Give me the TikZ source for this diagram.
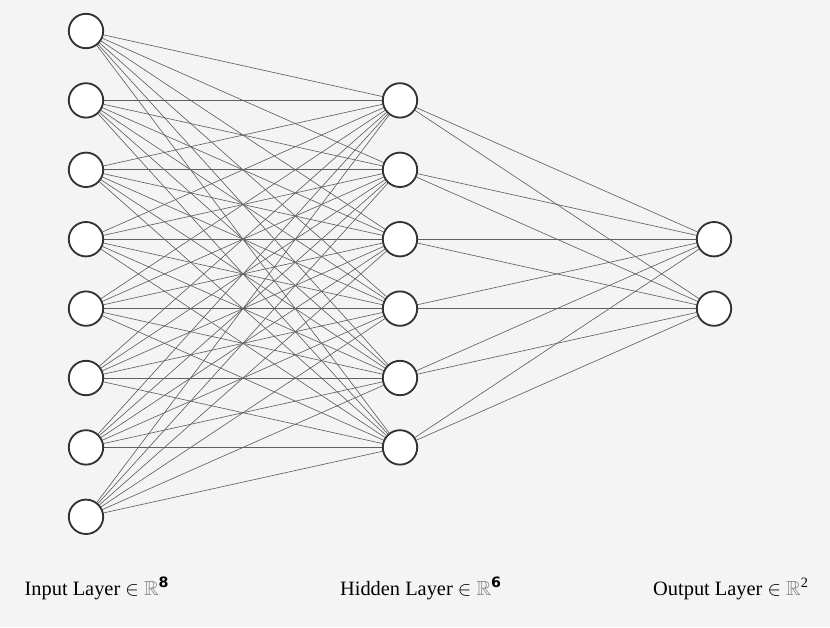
\documentclass[tikz,border=0pt]{standalone}
\usepackage{fontspec}
\setmainfont{Liberation Serif}
\setsansfont{DejaVu Sans}
\usepackage{amsmath, amssymb}
\usepackage{tikz}
\usetikzlibrary{positioning, backgrounds}
\definecolor{bggray}{RGB}{244, 244, 244}
\definecolor{edgegray}{RGB}{95, 95, 95}
\definecolor{ringgray}{RGB}{50, 50, 50}
\tikzset{
	neuron/.style={circle, draw=ringgray, line width=1.3pt, fill=white, minimum size=0.86cm, inner sep=0pt},
	link/.style={draw=edgegray, line width=0.45pt},
	layerlabel/.style={font=\fontsize{14.5}{16}\selectfont, anchor=base}
}

\begin{document}
\begin{tikzpicture}[x=0.025cm, y=-0.025cm]
			\useasboundingbox (0,0) rectangle (830,627);
			
			% input layer
			\foreach \i in {1,...,8}
				\node[neuron] (in-\i) at (86,{31+69.4*(\i-1)}) {};
			% hidden layer
			\foreach \j in {1,...,6}
				\node[neuron] (hid-\j) at (400,{31+69.4*\j}) {};
			% output layer
			\foreach \k in {1,2}
				\node[neuron] (out-\k) at (714,{31+69.4*(\k+2)}) {};
			
			\begin{scope}[on background layer]
				\fill[bggray] (0,0) rectangle (830,627);
				\foreach \i in {1,...,8}
					\foreach \j in {1,...,6}
						\draw[link] (in-\i) -- (hid-\j);
				\foreach \j in {1,...,6}
					\foreach \k in {1,2}
						\draw[link] (hid-\j) -- (out-\k);
			\end{scope}
			
			\node[layerlabel] (lbl-in) at (97,595) {Input Layer $\in$ {\color{gray}$\mathbb{R}$}\textsuperscript{\sffamily\bfseries 8}};
			\node[layerlabel] (lbl-hid) at (421,595) {Hidden Layer $\in$ {\color{gray}$\mathbb{R}$}\textsuperscript{\sffamily\bfseries 6}};
			\node[layerlabel] (lbl-out) at (731,595) {Output Layer $\in$ {\color{gray}$\mathbb{R}$}\textsuperscript{2}};
		\end{tikzpicture}
\end{document}
